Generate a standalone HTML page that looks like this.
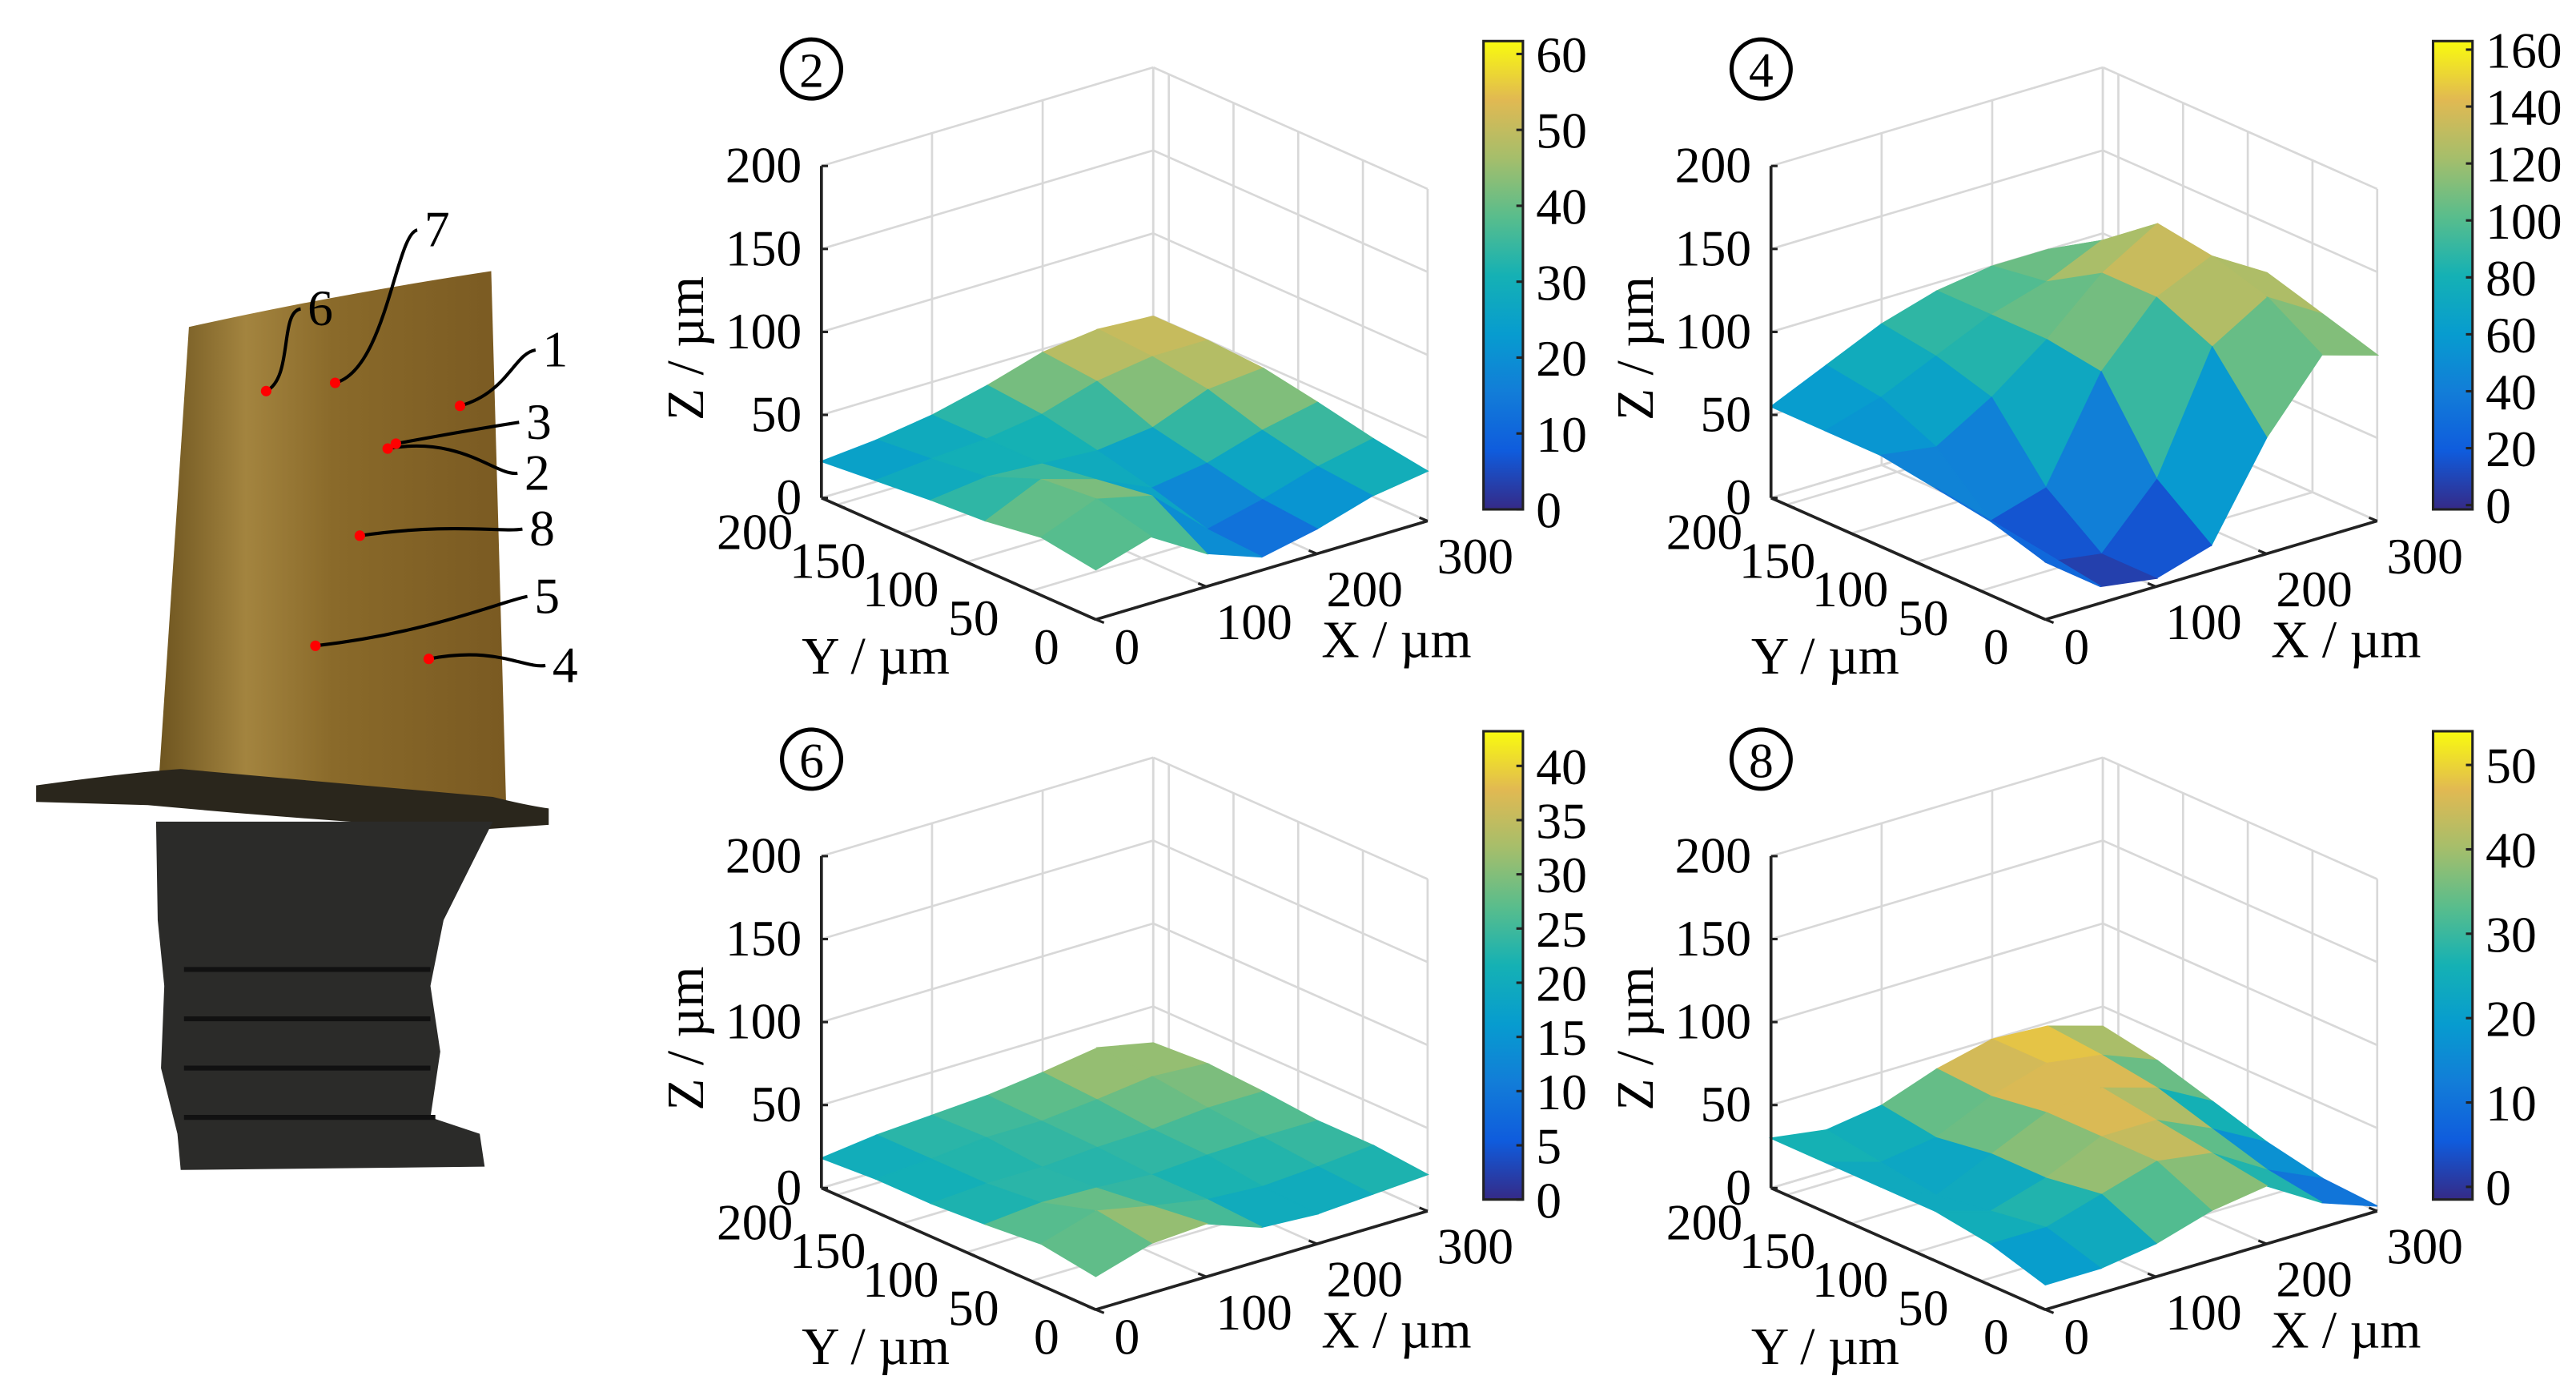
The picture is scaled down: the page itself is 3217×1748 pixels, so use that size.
<!DOCTYPE html>
<html><head><meta charset="utf-8"><style>
html,body{margin:0;padding:0;background:#fff;}
svg{display:block;}
text{font-family:"Liberation Serif",serif;fill:#000;}
</style></head><body>
<svg id="fig" width="3217" height="1748" viewBox="0 0 1568 852" preserveAspectRatio="none" xmlns="http://www.w3.org/2000/svg">
<defs>
<linearGradient id="parula" x1="0" y1="1" x2="0" y2="0">
<stop offset="0" stop-color="#352a87"/><stop offset="0.125" stop-color="#0f5cdd"/><stop offset="0.25" stop-color="#127dd8"/><stop offset="0.375" stop-color="#079ccf"/><stop offset="0.5" stop-color="#15b1b4"/><stop offset="0.625" stop-color="#59bd8c"/><stop offset="0.75" stop-color="#a5be6b"/><stop offset="0.875" stop-color="#e1b952"/><stop offset="1" stop-color="#f9fb0e"/>
</linearGradient>
<linearGradient id="goldg" x1="0" y1="0" x2="1" y2="0">
<stop offset="0" stop-color="#6e5520"/><stop offset="0.25" stop-color="#a3843f"/><stop offset="0.5" stop-color="#8a6a2a"/><stop offset="1" stop-color="#7a5a22"/>
</linearGradient>
</defs>
<g id="blade">
<path d="M115,199 Q200,180 299,165 L308,487 L250,488 L97,470 Z" fill="url(#goldg)"/>
<path d="M22,478 Q80,470 110,468 L300,485 Q320,490 334,492 L334,502 L290,505 Q200,500 90,490 L22,488 Z" fill="#2a261c"/>
<path d="M95,500 L300,500 L285,530 L270,560 L262,600 L268,640 L262,680 L292,690 L295,710 L110,712 L108,690 L98,650 L100,600 L96,560 Z" fill="#2b2b29"/>
<g stroke="#111" stroke-width="3">
<line x1="112" y1="590" x2="262" y2="590"/><line x1="112" y1="620" x2="262" y2="620"/><line x1="112" y1="650" x2="262" y2="650"/><line x1="112" y1="680" x2="265" y2="680"/>
</g>
</g>
<g id="markers" fill="none" stroke="#000" stroke-width="2"></g>
<g id="panels"></g>
</svg>
<script>
// ---- marker data ----
const markerIds = ["1","2","3","4","5","6","7","8"];
const markerDots = [[280,247],[236,273],[241,270],[261,401],[192,393],[162,238],[204,233],[219,326]];
const markerLabels = [[338,213],[327,288],[328,257],[344,405],[333,363],[195,188],[266,140],[330,322]];

// ---- surface data (rows: Y = 0..212, cols: X = 0..300) ----
const xGrid = [0,50,100,150,200,250,300];
const yGrid = [0,42,85,127,170,212];
const heights2 = [[30,40,20,8,15,25,30],[35,48,40,10,18,28,35],[30,45,35,20,25,35,42],[28,32,30,28,32,45,48],[25,28,30,35,45,50,50],[22,25,30,38,48,52,50]];
const heights4 = [[40,10,5,15,70,110,100],[45,10,5,40,110,130,110],[50,20,30,90,125,140,120],[55,50,70,95,125,145,115],[55,65,80,95,105,120,105],[55,70,85,95,100,100,95]];
const heights6 = [[20,30,32,20,18,20,22],[25,35,28,22,20,22,25],[22,25,24,22,24,25,25],[20,22,22,24,25,28,28],[20,22,25,25,28,32,30],[18,22,24,26,30,35,28]];
const heights8 = [[15,15,20,30,35,15,3],[25,25,35,45,40,20,5],[30,20,30,45,45,30,12],[30,15,30,45,50,40,22],[30,20,25,40,50,45,32],[30,25,30,42,50,48,38]];
const cbTicks2 = [0,10,20,30,40,50,60];
const cbTicks4 = [0,20,40,60,80,100,120,140,160];
const cbTicks6 = [0,5,10,15,20,25,30,35,40];
const cbTicks8 = [0,10,20,30,40,50];
const cbRange2 = [0,61.7];
const cbRange4 = [-1.5,163];
const cbRange6 = [0,43.2];
const cbRange8 = [-1.5,54];
const zTicks = [0,50,100,150,200];
const yTicks = [0,50,100,150,200];
const xTicks = [0,100,200,300];

const NS="http://www.w3.org/2000/svg";
const svg=document.getElementById('fig');
function mk(tag,attrs,parent){const e=document.createElementNS(NS,tag);for(const k in attrs)e.setAttribute(k,attrs[k]);parent.appendChild(e);return e;}

const mg=document.getElementById('markers');
markerIds.forEach((id,i)=>{
  const d=markerDots[i], l=markerLabels[i];
  const p=mk('path',{d:`M${d[0]},${d[1]} C${(d[0]+l[0])/2},${d[1]-8} ${l[0]-25},${l[1]+2} ${l[0]-12},${l[1]}`},mg);
  
  
  const c=mk('circle',{cx:d[0],cy:d[1],r:3.2,fill:'#ff0000',stroke:'none'},mg);
  
  
  const t=mk('text',{x:l[0],y:l[1]+10,'font-size':31,'text-anchor':'middle',stroke:'none'},mg);
  t.textContent=id;
  
  
});

const stops=[[0,[53,42,135]],[0.125,[15,92,221]],[0.25,[18,125,216]],[0.375,[7,156,207]],[0.5,[21,177,180]],[0.625,[89,189,140]],[0.75,[165,190,107]],[0.875,[225,185,82]],[1,[249,251,14]]];
function parula(t){t=Math.max(0,Math.min(1,t));for(let i=1;i<stops.length;i++){if(t<=stops[i][0]){const a=stops[i-1],b=stops[i];const f=(t-a[0])/(b[0]-a[0]);const c=a[1].map((v,k)=>Math.round(v+(b[1][k]-v)*f));return `rgb(${c[0]},${c[1]},${c[2]})`;}}return 'rgb(249,251,14)';}

function panel(num,ox,oy,H,cbT,cbR){
  const g=mk('g',{},document.getElementById('panels'));
  
  
  const YM=212;
  const P=(X,Y,Z)=>[ox+667+X*0.6733-Y*(167/YM), oy+377-X*0.2-Y*(74/YM)-Z*1.01];
  const line=(a,b,col,w,name)=>{const l=mk('line',{x1:a[0],y1:a[1],x2:b[0],y2:b[1],stroke:col,'stroke-width':w},g);return l;};
  const gc='#d8d8d8';
  zTicks.forEach(z=>{line(P(0,YM,z),P(300,YM,z),gc,1.3,'grid-z');line(P(300,YM,z),P(300,0,z),gc,1.3,'grid-z');});
  xTicks.forEach(x=>{line(P(x,YM,0),P(x,YM,200),gc,1.3,'grid-x');line(P(x,0,0),P(x,YM,0),gc,1.3,'grid-x');});
  yTicks.concat([YM]).forEach(y=>{line(P(300,y,0),P(300,y,200),gc,1.3,'grid-y');line(P(0,y,0),P(300,y,0),gc,1.3,'grid-y');});
  const quads=[];
  for(let r=0;r<yGrid.length-1;r++)for(let c=0;c<xGrid.length-1;c++){quads.push([r,c,xGrid[c]/300+yGrid[r]/YM]);}
  quads.sort((a,b)=>b[2]-a[2]);
  quads.forEach(([r,c])=>{
    const pts=[[c,r],[c+1,r],[c+1,r+1],[c,r+1]].map(([cc,rr])=>P(xGrid[cc],yGrid[rr],H[rr][cc]));
    const avg=(H[r][c]+H[r][c+1]+H[r+1][c]+H[r+1][c+1])/4;
    const col=parula((avg-cbR[0])/(cbR[1]-cbR[0]));
    const q=mk('polygon',{points:pts.map(p=>p.join(',')).join(' '),fill:col,stroke:col,'stroke-width':0.8},g);
    
    
  });
  const ak='#222';
  line(P(0,YM,0),P(0,YM,200),ak,1.8,'z-axis');
  line(P(0,0,0),P(0,YM,0),ak,1.8,'y-axis');
  line(P(0,0,0),P(300,0,0),ak,1.8,'x-axis');
  const txt=(x,y,s,anchor,name,size)=>{const t=mk('text',{x:x,y:y,'font-size':size||31,'text-anchor':anchor},g);t.textContent=s;return t;};
  zTicks.forEach(z=>{const p=P(0,YM,z);line(p,[p[0]+4,p[1]],ak,1.5,'z-tick');txt(p[0]-12,p[1]+10,String(z),'end','z-tick-label');});
  yTicks.forEach(y=>{const p=P(0,y,0);line(p,[p[0]+5,p[1]+2],ak,1.5,'y-tick');txt(p[0]-30-y*0.1,p[1]+27,String(y),'middle','y-tick-label');});
  xTicks.forEach(x=>{const p=P(x,0,0);line(p,[p[0]-5,p[1]-2],ak,1.5,'x-tick');txt(p[0]+(x===0?19:29),p[1]+(x===0?27:32),String(x),'middle','x-tick-label');});
  const zl=txt(0,0,'Z / µm','middle','z-axis-title',32);
  zl.setAttribute('transform',`translate(${ox+428},${oy+212}) rotate(-90)`);
  txt(ox+533,oy+410,'Y / µm','middle','y-axis-title',32);
  txt(ox+850,oy+400,'X / µm','middle','x-axis-title',32);
  const ci=mk('circle',{cx:ox+494,cy:oy+42,r:18,fill:'none',stroke:'#000','stroke-width':2.5},g);
  
  
  txt(ox+494,oy+53,String(num),'middle','panel-number',30);
  const cx0=ox+903,cw=24,ct=oy+25,cb=oy+310;
  const rr=mk('rect',{x:cx0,y:ct,width:cw,height:cb-ct,fill:'url(#parula)',stroke:'#222','stroke-width':1.5},g);
  
  
  cbT.forEach(v=>{const y=cb-(v-cbR[0])/(cbR[1]-cbR[0])*(cb-ct);line([cx0+cw-4,y],[cx0+cw,y],'#222',1.5,'colorbar-tick');txt(cx0+cw+8,y+11,String(v),'start','colorbar-tick-label');});
}
panel(2,0,0,heights2,cbTicks2,cbRange2);
panel(4,578,0,heights4,cbTicks4,cbRange4);
panel(6,0,420,heights6,cbTicks6,cbRange6);
panel(8,578,420,heights8,cbTicks8,cbRange8);
</script>
</body></html>
